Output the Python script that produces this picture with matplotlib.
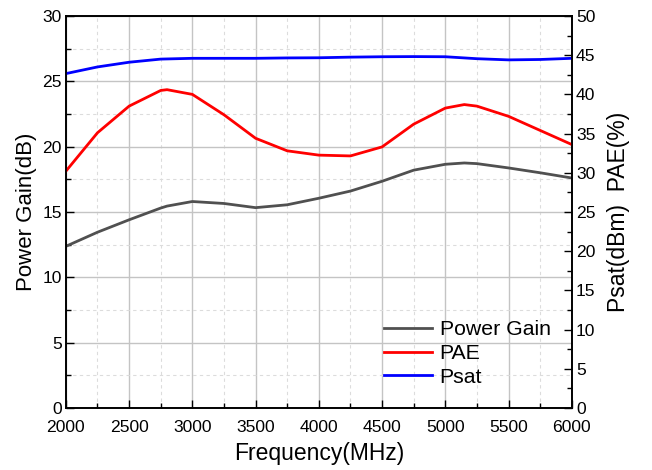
import matplotlib
matplotlib.use('Agg')
import matplotlib.pyplot as plt
from matplotlib.ticker import MultipleLocator

plt.rcParams['font.family'] = ['Liberation Sans', 'DejaVu Sans']

# frequency points (MHz)
freq = [2000, 2250, 2500, 2750, 2800, 3000, 3250, 3500, 3750, 4000,
        4250, 4500, 4750, 5000, 5150, 5250, 5500, 5750, 6000]

# Power Gain (dB), left axis
gain = [12.37, 13.45, 14.4, 15.3, 15.45, 15.8, 15.65, 15.33, 15.55, 16.05,
        16.6, 17.35, 18.2, 18.65, 18.75, 18.7, 18.37, 18.0, 17.6]

# PAE (%), right axis
pae = [30.2, 35.1, 38.5, 40.5, 40.6, 40.0, 37.4, 34.4, 32.8, 32.25,
       32.15, 33.3, 36.2, 38.25, 38.7, 38.5, 37.2, 35.4, 33.6]

# Psat (dBm), right axis
psat = [42.65, 43.5, 44.1, 44.5, 44.52, 44.6, 44.6, 44.6, 44.65, 44.67,
        44.75, 44.8, 44.82, 44.8, 44.65, 44.55, 44.4, 44.45, 44.6]

fig = plt.figure(figsize=(6.52, 4.70), dpi=100)
ax = fig.add_axes([0.101, 0.132, 0.776, 0.834])
ax2 = ax.twinx()

l1, = ax.plot(freq, gain, color='#505050', lw=2.0, label='Power Gain')
l2, = ax2.plot(freq, pae, color='#ff0000', lw=2.0, label='PAE')
l3, = ax2.plot(freq, psat, color='#0000ff', lw=2.0, label='Psat')

ax.set_xlim(2000, 6000)
ax.set_ylim(0, 30)
ax2.set_ylim(0, 50)

ax.xaxis.set_major_locator(MultipleLocator(500))
ax.xaxis.set_minor_locator(MultipleLocator(250))
ax.yaxis.set_major_locator(MultipleLocator(5))
ax.yaxis.set_minor_locator(MultipleLocator(2.5))
ax2.yaxis.set_major_locator(MultipleLocator(5))
ax2.yaxis.set_minor_locator(MultipleLocator(2.5))

ax.grid(which='major', color='#c4c4c4', lw=1.0)
ax.grid(which='minor', color='#dcdcdc', lw=0.8, ls=(0, (3, 3)))
ax.set_axisbelow(True)

for a in (ax, ax2):
    a.tick_params(which='both', direction='in', labelsize=12.6, pad=3)
    a.tick_params(which='major', length=6, width=1)
    a.tick_params(which='minor', length=3.5, width=1)
    for s in a.spines.values():
        s.set_linewidth(1.2)
ax.tick_params(axis='x', which='both', top=False, pad=9)

ax.set_xlabel('Frequency(MHz)', fontsize=16.5, labelpad=5)
ax.set_ylabel('Power Gain(dB)', fontsize=16, labelpad=4)
ax2.set_ylabel('Psat(dBm)  PAE(%)', fontsize=16.5, labelpad=8)

ax2.legend([l1, l2, l3], ['Power Gain', 'PAE', 'Psat'], loc='lower right',
           bbox_to_anchor=(1.0, 0.0), frameon=False, fontsize=15.3,
           handlelength=2.25, labelspacing=0.22, handletextpad=0.35,
           borderaxespad=0.6)

fig.savefig('out.png', dpi=100)
